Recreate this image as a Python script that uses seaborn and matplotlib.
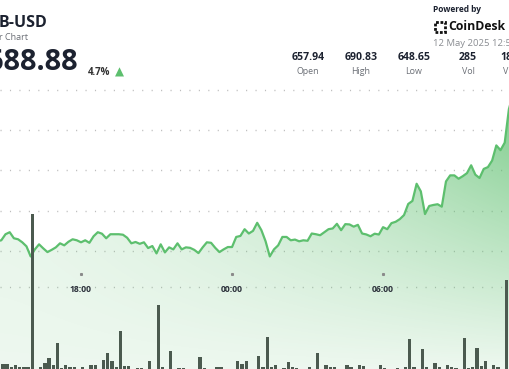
'''
Recreates the BNB-USD 24 hour price chart (price line with gradient fill, volume bars)
'''

import numpy as np
import pandas as pd
import matplotlib
matplotlib.use('Agg')
import matplotlib.pyplot as plt
import matplotlib.dates as mdates
import matplotlib.transforms as mtransforms
from matplotlib.patches import Rectangle
import seaborn as sns

# --------------------------------------------------
# Data (10 minute candles)
# --------------------------------------------------

price_start = '2025-05-11 14:40'
prices = [652.4, 652.65, 654.15, 654.65, 653.15, 652.9, 652.15, 651.15, 648.65, 650.4,
          651.65, 650.65, 649.73, 650.28, 650.9, 651.9, 651.4, 652.28, 652.9, 652.65,
          652.15, 652.65, 652.03, 653.65, 654.65, 654.28, 653.15, 654.15, 654.15, 654.15,
          654.03, 653.28, 651.9, 652.23, 651.78, 652.15, 650.73, 651.23, 649.4, 651.65,
          649.65, 650.9, 650.4, 651.9, 650.4, 650.9, 650.78, 650.28, 649.48, 650.9,
          652.15, 652.03, 650.78, 649.73, 650.4, 650.98, 650.98, 653.48, 653.73, 655.4,
          654.33, 654.98, 656.98, 655.15, 652.4, 648.65, 650.4, 651.4, 653.48, 653.48,
          652.65, 652.83, 652.4, 652.65, 652.53, 654.33, 654.15, 653.9, 654.65, 655.4,
          655.58, 656.73, 655.15, 656.65, 656.58, 656.03, 656.48, 654.33, 654.1, 653.65,
          654.28, 654.08, 655.9, 655.4, 656.9, 657.23, 657.9, 658.9, 661.65, 662.4,
          666.65, 664.78, 659.15, 661.15, 661.4, 661.58, 660.98, 667.23, 668.73, 668.73,
          667.9, 668.53, 669.28, 671.23, 668.9, 668.08, 670.33, 670.78, 672.4, 676.15,
          674.98, 676.83, 685.15, 688.88]

# relative volume per candle (same start time)
volume = [32, 5, 5, 2, 4, 2.5, 2.5, 1.7, 155, 0.3,
          1.7, 6.3, 11.3, 4, 25.7, 1, 4, 2.3, 2.3, 0.5,
          2.3, 0.5, 3.7, 3.7, 0.5, 9, 15.7, 8, 1.7, 38.3,
          3, 3, 0.5, 0.7, 0.7, 0.3, 7.7, 0.3, 64.3, 2,
          0.3, 18.3, 0.3, 1.3, 1.3, 0.3, 0.3, 0.3, 12.3, 0.7,
          0.3, 0.3, 2.3, 1.7, 0.3, 0.3, 0.3, 8.3, 5, 8,
          0.3, 0.3, 13.3, 1.7, 32.3, 1.7, 4, 0.5, 0.7, 7.3,
          1.7, 0.7, 0.3, 0.3, 2.3, 0.3, 15.7, 0.3, 4, 1.7,
          1.7, 0.3, 0.3, 3.7, 2.3, 0.3, 4, 3, 0.3, 0.3,
          0.3, 3.7, 1.3, 0.3, 0.3, 1.3, 0.3, 1.7, 29.7, 2.3,
          0.3, 20.3, 1.7, 0.3, 6.3, 2.3, 0.3, 4, 1.7, 1.3,
          0.3, 30.7, 1.3, 2.3, 20.7, 3, 8, 0.3, 4, 2.3,
          0.3, 89]

tick_times = ['2025-05-11 18:00', '2025-05-12 00:00', '2025-05-12 06:00']
tick_labels = ['18:00', '00:00', '06:00']
grid_levels = [650, 660, 670, 680, 690]

stat_values = ['657.94', '690.83', '648.65', '285', '18']
stat_names = ['Open', 'High', 'Low', 'Vol', 'V']

# --------------------------------------------------
# Styling
# --------------------------------------------------

W, H = 510, 369
GREEN = '#5dbf6e'
BAR = '#4b5a4f'
DARK = '#1c2230'
GREY = '#6b6f76'

sns.set_style('white')
plt.rcParams['font.family'] = ['Open Sans', 'DejaVu Sans']


def px(x, y):
    # pixel position -> figure fraction
    return x / W, 1 - y / H


df = pd.DataFrame({'time': pd.date_range(price_start, periods=len(prices), freq='10min'),
                   'price': prices})
vol_df = pd.DataFrame({'time': pd.date_range(price_start, periods=len(volume), freq='10min'),
                       'volume': volume})

fig = plt.figure(figsize=(W / 100, H / 100), dpi=100)
ax = fig.add_axes([0, 0, 1, 1])

x_lo = pd.Timestamp('2025-05-11 14:46:54')
x_hi = pd.Timestamp('2025-05-12 11:02:36')
y_lo, y_hi = 620.77, 712.17

# price line
sns.lineplot(data=df, x='time', y='price', ax=ax, color=GREEN, lw=1.6, zorder=4)

# gradient fill under the line
poly = ax.fill_between(df.time, df.price, y_lo, color='none', lw=0)
xf = np.linspace(0, 1, W)[None, :]
yf = np.linspace(0, 1, H)[:, None]
alpha = np.clip(0.11 + 0.85 * xf ** 1.5 * yf + 0.08 * yf, 0, 1)
img = np.zeros((H, W, 4))
img[..., 0], img[..., 1], img[..., 2] = 0x5d / 255, 0xbf / 255, 0x6e / 255
img[..., 3] = alpha
x0, x1 = mdates.date2num(x_lo), mdates.date2num(x_hi)
im = ax.imshow(img, extent=[x0, x1, y_lo, y_hi], origin='lower', aspect='auto', zorder=2)
im.set_clip_path(poly.get_paths()[0], ax.transData)

# dotted grid
for level in grid_levels:
    ax.axhline(level, color='#bdbdbd', lw=1, linestyle=(0, (0.8, 6.0)), zorder=1)

blend = mtransforms.blended_transform_factory(ax.transData, ax.transAxes)
ax.plot([0, 1], [1 - 287 / H] * 2, transform=ax.transAxes, color='#bdbdbd', lw=1,
        linestyle=(0, (0.8, 6.0)), zorder=1)

ticks = pd.to_datetime(tick_times)
ax.plot(ticks, [1 - 274 / H] * len(ticks), 's', ms=1.2, color='#8a8a8a',
        transform=blend, zorder=5)
for t, lab in zip(ticks, tick_labels):
    ax.text(t, 1 - 289.5 / H, lab, transform=blend, ha='center', va='center',
            fontsize=6.2, fontweight='bold', color='#2b303a', zorder=5)

ax.set_xlim(x_lo, x_hi)
ax.set_ylim(y_lo, y_hi)
ax.axis('off')

# volume bars on their own scale
ax2 = ax.twinx()
ax2.bar(mdates.date2num(vol_df.time), vol_df.volume, width=7.8 / 1440, align='edge',
        color=BAR, lw=0, zorder=3)
ax2.set_ylim(0, H)
ax2.set_xlim(x_lo, x_hi)
ax2.axis('off')

# --------------------------------------------------
# Header texts
# --------------------------------------------------

fig.text(*px(-1, 23), 'B-USD', fontsize=11.5, fontweight='bold', color=DARK, va='center')
fig.text(*px(-1, 37.5), 'r Chart', fontsize=6.5, color=GREY, va='center')
fig.text(*px(-13.5, 62), '688.88', fontsize=20.8, fontweight='bold', color=DARK, va='center')
fig.text(*px(88, 72.5), '4.7%', fontsize=7, fontweight='bold', color='#333333', va='center')
fig.text(*px(119, 72.5), '\u25b2', fontsize=8.5, color=GREEN, ha='center', va='center',
         family='DejaVu Sans')

stat_x = [308, 361, 414, 468]
for i, (v, n) in enumerate(zip(stat_values, stat_names)):
    if i < len(stat_x):
        fig.text(*px(stat_x[i], 58), v, fontsize=7.6, fontweight='bold', color=DARK,
                 ha='center', va='center')
        fig.text(*px(stat_x[i], 71), n, fontsize=6.4, color=GREY, ha='center', va='center')
    else:
        # last column is cut by the right edge
        fig.text(*px(500, 58), v, fontsize=7.6, fontweight='bold', color=DARK, va='center')
        fig.text(*px(503, 71), n, fontsize=6.4, color=GREY, va='center')

fig.text(*px(433, 10), 'Powered by', fontsize=6, fontweight='bold', color=DARK, va='center')
fig.patches.append(Rectangle(px(435, 32), 10 / W, 10 / H, transform=fig.transFigure,
                             fill=False, ec='#111111', lw=2, ls=(0, (1, 0.6))))
fig.text(*px(448, 27), 'CoinDesk', fontsize=8.8, fontweight='bold', color='#111111',
         va='center')
fig.text(*px(433, 43.5), '12 May 2025 12:55', fontsize=6.8, color='#8a8d92', va='center')

fig.savefig('out.png', dpi=100)
